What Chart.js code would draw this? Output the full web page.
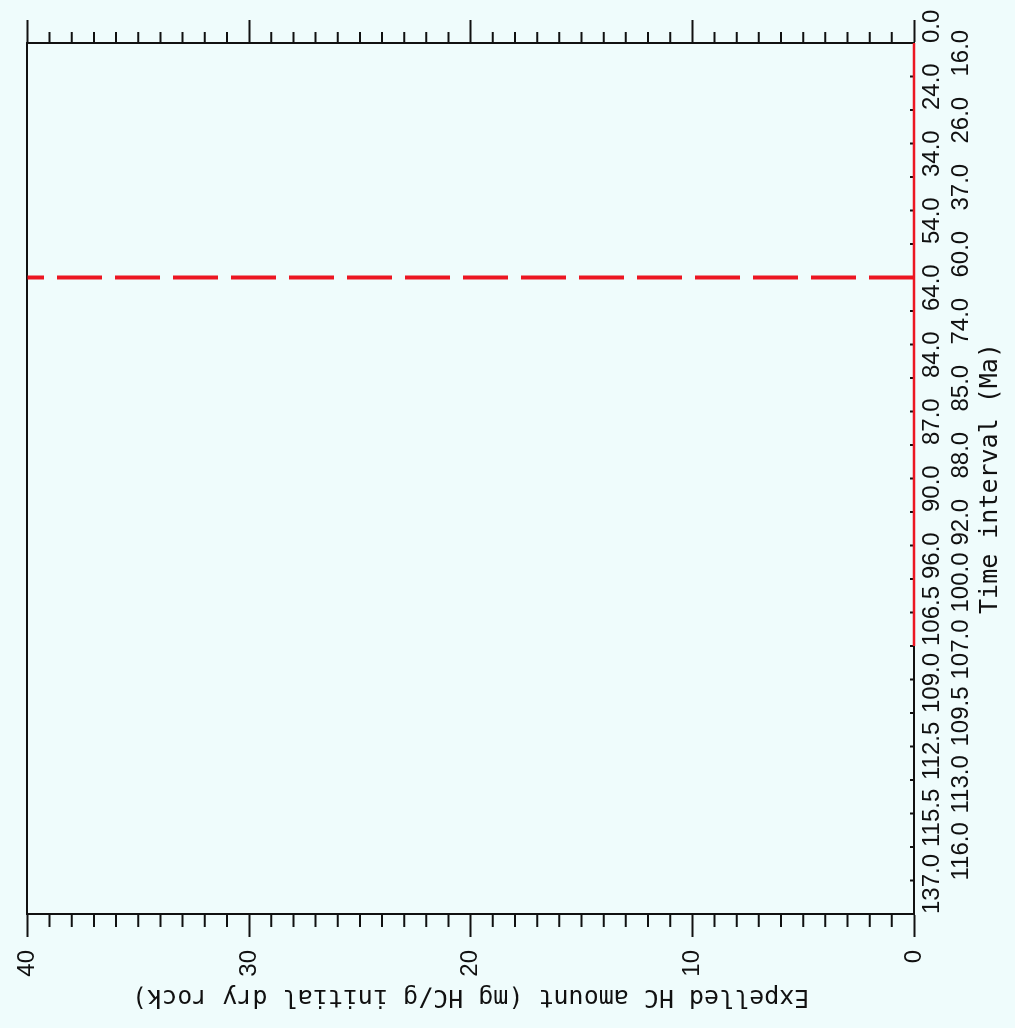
<!DOCTYPE html>
<html>
<head>
<meta charset="utf-8">
<title>Expelled HC amount</title>
<script src="https://cdn.jsdelivr.net/npm/chart.js@4.4.1/dist/chart.umd.min.js"></script>
<style>
  html, body { margin: 0; padding: 0; background: #effcfc; overflow: hidden; }
  /* the plot is printed turned a quarter turn to the left */
  #wrap {
    position: absolute; left: 0; top: 0;
    width: 1028px; height: 1015px;
    transform-origin: 0 0;
    transform: translate(0, 1028px) rotate(-90deg);
  }
</style>
</head>
<body>
<div id="wrap"><canvas id="chart" width="1028" height="1015"></canvas></div>
<script>
// time intervals (Ma), oldest first
const timeIntervals = ['137.0', '116.0', '115.5', '113.0', '112.5', '109.5', '109.0', '107.0',
  '106.5', '100.0', '96.0', '92.0', '90.0', '88.0', '87.0', '85.0', '84.0', '74.0', '64.0',
  '60.0', '54.0', '37.0', '34.0', '26.0', '24.0', '16.0', '0.0'];

// expelled HC (mg HC/g initial dry rock); null = nothing plotted
const expelledHC = [null, null, null, null, null, null, null, null,
  0, 0, 0, 0, 0, 0, 0, 0, 0, 0, 0, 0, 0, 0, 0, 0, 0, 0, 0];

// dashed marker line
const markerTime = '60.0';
const markerHC = [0, 40];

const hcMin = 0;
const hcMax = 40;
const hcStep = 10;

const INK = '#111';
const RED = 'rgb(236, 22, 34)';

const plotExtras = {
  id: 'plotExtras',
  beforeDraw(chart) {
    const ctx = chart.ctx;
    ctx.save();
    ctx.fillStyle = '#effcfc';
    ctx.fillRect(0, 0, chart.width, chart.height);
    ctx.restore();
  },
  beforeDatasetsDraw(chart) {
    const ctx = chart.ctx;
    const { x, y, y2 } = chart.scales;
    ctx.save();
    ctx.strokeStyle = INK;
    ctx.lineWidth = 2;
    ctx.beginPath();
    // minor ticks on both HC axes
    for (let v = hcMin; v <= hcMax; v++) {
      if (v % hcStep === 0) continue;
      const py = y.getPixelForValue(v);
      ctx.moveTo(y.right, py);
      ctx.lineTo(y.right - 13, py);
      ctx.moveTo(y2.left, py);
      ctx.lineTo(y2.left + 11, py);
    }
    // short inner ticks on the time axis
    x.ticks.forEach((t, i) => {
      const px = x.getPixelForTick(i);
      ctx.moveTo(px, x.top);
      ctx.lineTo(px, x.top - 4);
    });
    ctx.stroke();
    ctx.restore();
  }
};

const ctx = document.getElementById('chart').getContext('2d');

new Chart(ctx, {
  type: 'line',
  data: {
    labels: timeIntervals,
    datasets: [
      {
        label: 'Expelled HC',
        data: expelledHC,
        borderColor: RED,
        borderWidth: 2.5,
        pointRadius: 0,
        tension: 0,
        clip: false,
      },
      {
        label: 'marker',
        data: markerHC.map(v => ({ x: markerTime, y: v })),
        borderColor: RED,
        borderWidth: 4,
        borderDash: [45, 13],
        pointRadius: 0,
        tension: 0,
        clip: false,
      },
    ],
  },
  options: {
    responsive: false,
    animation: false,
    layout: { padding: { left: 10, right: 20, top: 24, bottom: 5 } },
    plugins: {
      legend: { display: false },
      tooltip: { enabled: false },
    },
    scales: {
      x: {
        type: 'category',
        position: 'bottom',
        offset: false,
        grid: { display: false, drawTicks: false },
        border: { display: true, color: INK, width: 2 },
        ticks: {
          autoSkip: false,
          maxRotation: 0,
          minRotation: 0,
          align: 'start',
          padding: 4,
          color: INK,
          font: { family: 'Liberation Sans', size: 24, lineHeight: 1.21 },
          // labels are staggered on two rows
          callback: (v, i) => (i % 2 ? ['', timeIntervals[i]] : timeIntervals[i]),
        },
        title: {
          display: true,
          text: 'Time interval (Ma)',
          color: INK,
          font: { family: 'DejaVu Sans Mono', size: 25 },
          padding: { top: 0, bottom: 5 },
        },
        afterFit: s => { s.height = 96; },
      },
      x2: {
        type: 'category',
        position: 'top',
        offset: false,
        grid: { display: false, drawTicks: false },
        border: { display: true, color: INK, width: 2 },
        ticks: { display: false },
        afterFit: s => { s.height = 0; },
      },
      y: {
        type: 'linear',
        position: 'left',
        min: hcMin,
        max: hcMax,
        grid: { drawOnChartArea: false, tickLength: 23, tickColor: INK, tickWidth: 2 },
        border: { display: true, color: INK, width: 2 },
        ticks: {
          stepSize: hcStep,
          padding: 13,
          color: INK,
          font: { family: 'Liberation Sans', size: 24 },
        },
        title: {
          display: true,
          text: 'Expelled HC amount (mg HC/g initial dry rock)',
          color: INK,
          font: { family: 'DejaVu Sans Mono', size: 25 },
          padding: { top: 6, bottom: 0 },
        },
        afterFit: s => { s.width = 104; },
      },
      y2: {
        type: 'linear',
        position: 'right',
        min: hcMin,
        max: hcMax,
        grid: { drawOnChartArea: false, tickLength: 23, tickColor: INK, tickWidth: 2 },
        border: { display: true, color: INK, width: 2 },
        ticks: { stepSize: hcStep, display: false },
        afterFit: s => { s.width = 23; },
      },
    },
  },
  plugins: [plotExtras],
});
</script>
</body>
</html>
